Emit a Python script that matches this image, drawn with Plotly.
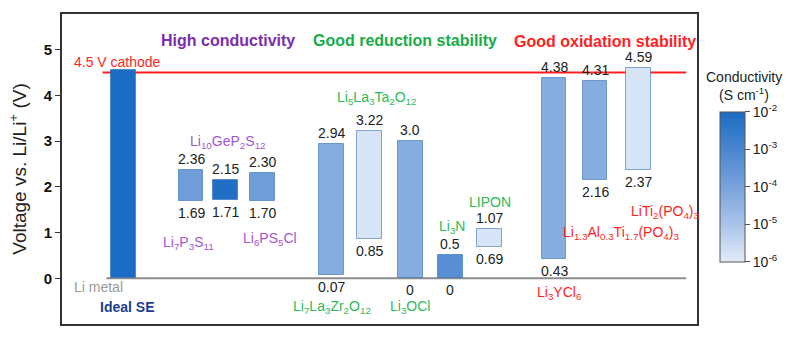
import plotly.graph_objects as go

# ---- data -------------------------------------------------------------
materials = ["Ideal SE", "Li7P3S11", "Li10GeP2S12", "Li6PS5Cl",
             "Li7La3Zr2O12", "Li5La3Ta2O12", "Li3OCl", "Li3N", "LIPON",
             "Li3YCl6", "Li1.3Al0.3Ti1.7(PO4)3", "LiTi2(PO4)3"]
# electrochemical stability window (V vs. Li/Li+)
low_labels = ["", "1.69", "1.71", "1.70", "0.07", "0.85", "0", "0", "0.69",
              "0.43", "2.16", "2.37"]
high_labels = ["", "2.36", "2.15", "2.30", "2.94", "3.22", "3.0", "0.5", "1.07",
               "4.38", "4.31", "4.59"]
ideal_window = (0.0, 4.55)
# log10 of ionic conductivity (S cm-1)
log_conductivity = [-2.0, -3.8, -2.1, -3.8, -4.3, -5.8, -4.3, -3.3, -5.8,
                    -4.3, -4.3, -5.8]
cathode_voltage = 4.5
cbar_ticks = [-2, -3, -4, -5, -6]
cbar_ticktext = ["10<sup>-2</sup>", "10<sup>-3</sup>", "10<sup>-4</sup>",
                 "10<sup>-5</sup>", "10<sup>-6</sup>"]

lows = [ideal_window[0]] + [float(s) for s in low_labels[1:]]
highs = [ideal_window[1]] + [float(s) for s in high_labels[1:]]

# ---- layout helpers ---------------------------------------------------
x_pos = [62.5, 130.5, 165, 202.5, 272.5, 311, 352, 392.5, 432.5, 497.5, 539, 582.5]
bar_w = 25
FONT = "Liberation Sans, Arial, Helvetica, sans-serif"
PURPLE_H, PURPLE = "#7a2db0", "#a257d4"
GREEN_H, GREEN = "#16ad48", "#2dbb58"
RED = "#ff1f1f"

colorscale = [[0.0, "#e3ecf8"], [0.25, "#a9c4e9"], [0.5, "#78a3dc"],
              [0.75, "#4a86d0"], [1.0, "#1b6cc4"]]

fig = go.Figure()
fig.add_trace(go.Bar(
    x=x_pos,
    y=[h - l for h, l in zip(highs, lows)],
    base=lows,
    width=bar_w,
    marker=dict(
        color=log_conductivity,
        colorscale=colorscale,
        cmin=-6, cmax=-2,
        line=dict(color="rgba(40,100,180,0.55)", width=1),
        colorbar=dict(
            x=1.0202, xanchor="left", xref="paper",
            y=(324 - 186) / 312, yanchor="middle",
            lenmode="pixels", len=170, ypad=10, thickness=25,
            outlinewidth=1, outlinecolor="#555",
            tickmode="array", tickvals=cbar_ticks, ticktext=cbar_ticktext,
            ticks="outside", ticklen=5, tickcolor="#555",
            tickfont=dict(family=FONT, size=14, color="#222"),
        ),
    ),
    hoverinfo="skip",
    showlegend=False,
))

annotations = []

# stability values above / below each window
for i in range(1, len(materials)):
    annotations.append(dict(x=x_pos[i], y=highs[i], text=high_labels[i],
                            yanchor="bottom", yshift=1, showarrow=False,
                            font=dict(family=FONT, size=14, color="#222")))
    annotations.append(dict(x=x_pos[i], y=lows[i], text=low_labels[i],
                            yanchor="top", yshift=-2, showarrow=False,
                            font=dict(family=FONT, size=14, color="#222")))

# material names
names = [
    ("Li<sub>10</sub>GeP<sub>2</sub>S<sub>12</sub>", 168, 2.98, PURPLE),
    ("Li<sub>7</sub>P<sub>3</sub>S<sub>11</sub>", 128, 0.78, PURPLE),
    ("Li<sub>6</sub>PS<sub>5</sub>Cl", 210, 0.85, PURPLE),
    ("Li<sub>7</sub>La<sub>3</sub>Zr<sub>2</sub>O<sub>12</sub>", 273, -0.62, GREEN),
    ("Li<sub>5</sub>La<sub>3</sub>Ta<sub>2</sub>O<sub>12</sub>", 318, 3.95, GREEN),
    ("Li<sub>3</sub>OCl", 352, -0.62, GREEN),
    ("Li<sub>3</sub>N", 394, 1.12, GREEN),
    ("LIPON", 433, 1.67, GREEN),
    ("Li<sub>3</sub>YCl<sub>6</sub>", 503, -0.32, RED),
    ("Li<sub>1.3</sub>Al<sub>0.3</sub>Ti<sub>1.7</sub>(PO<sub>4</sub>)<sub>3</sub>", 565, 1.0, RED),
    ("LiTi<sub>2</sub>(PO<sub>4</sub>)<sub>3</sub>", 610, 1.46, RED),
]
for text, x, y, c in names:
    annotations.append(dict(x=x, y=y, text=text, showarrow=False,
                            font=dict(family=FONT, size=14, color=c)))

# group headings and other labels
headings = [
    ("High conductivity", 168, 5.19, PURPLE_H),
    ("Good reduction stability", 347, 5.19, GREEN_H),
    ("Good oxidation stability", 549, 5.17, RED),
]
for text, x, y, c in headings:
    annotations.append(dict(x=x, y=y, text="<b>%s</b>" % text, showarrow=False,
                            font=dict(family=FONT, size=16, color=c)))

annotations += [
    dict(x=10, y=4.72, text="4.5 V cathode", xanchor="left", showarrow=False,
         font=dict(family=FONT, size=14, color=RED)),
    dict(x=10, y=-0.2, text="Li metal", xanchor="left", showarrow=False,
         font=dict(family=FONT, size=14, color="#9a9a9a")),
    dict(x=66, y=-0.63, text="<b>Ideal SE</b>", showarrow=False,
         font=dict(family=FONT, size=14, color="#1b3f8f")),
    dict(xref="paper", yref="paper", x=(752 - 62) / 642, y=(324 - 75) / 312,
         xanchor="center", yanchor="middle",
         text="Conductivity", showarrow=False,
         font=dict(family=FONT, size=14, color="#222")),
    dict(xref="paper", yref="paper", x=(752 - 62) / 642, y=(324 - 93) / 312,
         xanchor="center", yanchor="middle",
         text="(S cm<sup>-1</sup>)", showarrow=False,
         font=dict(family=FONT, size=14, color="#222")),
]

shapes = [
    # Li metal reference line
    dict(type="line", x0=45, x1=631, y0=0, y1=0, xref="x", yref="y",
         line=dict(color="#8c8c8c", width=2), layer="below"),
    # cathode voltage line
    dict(type="line", x0=41, x1=631, y0=cathode_voltage, y1=cathode_voltage,
         xref="x", yref="y", line=dict(color=RED, width=2), layer="below"),
]

fig.update_layout(
    width=800, height=339,
    margin=dict(l=62, r=96, t=12, b=15),
    paper_bgcolor="white", plot_bgcolor="white",
    font=dict(family=FONT, color="#222"),
    annotations=annotations,
    shapes=shapes,
    bargap=0,
    xaxis=dict(range=[0, 642], showgrid=False, zeroline=False,
               showticklabels=False, ticks="",
               showline=True, mirror=True, linecolor="#333", linewidth=2),
    yaxis=dict(range=[-1.0, 5.78], showgrid=False, zeroline=False,
               tickvals=[0, 1, 2, 3, 4, 5],
               ticks="outside", ticklen=5, tickcolor="#333",
               tickfont=dict(family=FONT, size=15, color="#111", weight="bold"),
               showline=True, mirror=True, linecolor="#333", linewidth=2,
               title=dict(text="Voltage vs. Li/Li<sup>+</sup> (V)",
                          font=dict(family=FONT, size=19, color="#222"),
                          standoff=12)),
)

fig.write_html("out.html")
